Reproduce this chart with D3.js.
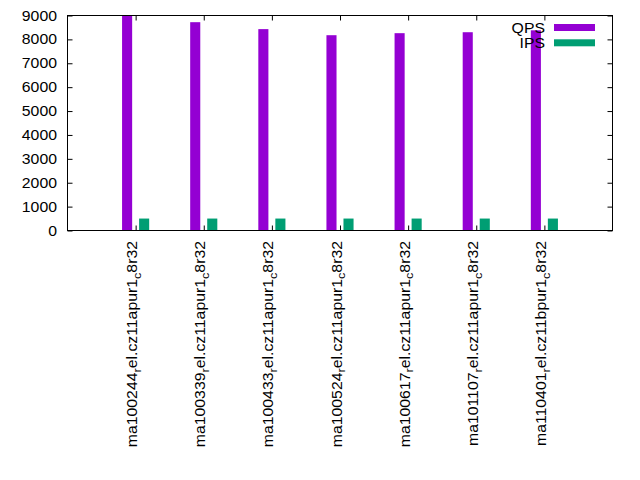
<!DOCTYPE html>
<html>
<head>
<meta charset="utf-8">
<script src="https://cdn.jsdelivr.net/npm/d3@7"></script>
<style>
  html, body { margin: 0; padding: 0; background: #fff; }
  svg { display: block; }
  text { font-family: "Liberation Sans", Arial, sans-serif; font-size: 14px; fill: #000; }
</style>
</head>
<body>
<script>
// ---- data ----
const categories = [
  "ma100244_rel.cz11apur1_c8r32",
  "ma100339_rel.cz11apur1_c8r32",
  "ma100433_rel.cz11apur1_c8r32",
  "ma100524_rel.cz11apur1_c8r32",
  "ma100617_rel.cz11apur1_c8r32",
  "ma101107_rel.cz11apur1_c8r32",
  "ma110401_rel.cz11bpur1_c8r32"
];
const seriesNames = ["QPS", "IPS"];
const qpsValues = [9000, 8720, 8430, 8175, 8260, 8300, 8380];
const ipsValues = [500, 500, 500, 500, 500, 500, 500];
const yTicks = [0, 1000, 2000, 3000, 4000, 5000, 6000, 7000, 8000, 9000];
const colors = ["#9400d3", "#009e73"];

// ---- layout ----
const W = 640, H = 480;
const m = { left: 67.5, right: 612.5, top: 15.5, bottom: 230.5 };
const SX = 1.13; // horizontal text stretch

const svg = d3.select("body").append("svg").attr("width", W).attr("height", H);

const x = d3.scaleLinear().domain([-1, categories.length]).range([m.left, m.right]);
const y = d3.scaleLinear().domain([0, 9000]).range([m.bottom, m.top]);

const barW = 0.148;
const offsets = [-0.125, 0.125];
const series = [qpsValues, ipsValues];

svg.append("clipPath").attr("id", "clip")
  .append("rect").attr("x", m.left).attr("y", m.top)
  .attr("width", m.right - m.left).attr("height", m.bottom - m.top);

const gBars = svg.append("g").attr("clip-path", "url(#clip)");
series.forEach((vals, si) => {
  gBars.selectAll(null).data(vals).enter().append("rect")
    .attr("x", (d, i) => x(i + offsets[si] - barW / 2))
    .attr("width", (d, i) => x(i + offsets[si] + barW / 2) - x(i + offsets[si] - barW / 2))
    .attr("y", d => y(d))
    .attr("height", d => y(0) - y(d))
    .attr("fill", colors[si]);
});

// axes (inward ticks, mirrored)
const tickLen = 5;
const gAx = svg.append("g");
const leftAxis = d3.axisLeft(y).tickValues(yTicks).tickSizeInner(-tickLen).tickSizeOuter(0).tickFormat("");
const la = gAx.append("g").attr("transform", `translate(${m.left},0)`).call(leftAxis);
la.select(".domain").remove();
la.selectAll("line").attr("stroke", "#000");
// y tick labels
gAx.selectAll(null).data(yTicks).enter().append("text")
  .attr("transform", d => `translate(57,${y(d) + 5}) scale(${SX},1)`)
  .attr("text-anchor", "end")
  .text(d3.format("d"));
const rightAxis = d3.axisRight(y).tickValues(yTicks).tickSizeInner(-tickLen).tickSizeOuter(0).tickFormat("");
const ra = gAx.append("g").attr("transform", `translate(${m.right},0)`).call(rightAxis);
ra.select(".domain").remove();
ra.selectAll("line").attr("stroke", "#000");
const idx = d3.range(categories.length);
const bottomAxis = d3.axisBottom(x).tickValues(idx).tickSizeInner(-tickLen).tickSizeOuter(0).tickFormat("");
const ba = gAx.append("g").attr("transform", `translate(0,${m.bottom})`).call(bottomAxis);
ba.select(".domain").remove();
ba.selectAll("line").attr("stroke", "#000");
const topAxis = d3.axisTop(x).tickValues(idx).tickSizeInner(-tickLen).tickSizeOuter(0).tickFormat("");
const ta = gAx.append("g").attr("transform", `translate(0,${m.top})`).call(topAxis);
ta.select(".domain").remove();
ta.selectAll("line").attr("stroke", "#000");

// frame
svg.append("rect").attr("x", m.left).attr("y", m.top)
  .attr("width", m.right - m.left).attr("height", m.bottom - m.top)
  .attr("fill", "none").attr("stroke", "#000").attr("stroke-width", 1);

// x labels (gnuplot enhanced text: _x -> subscript)
function parseEnhanced(s) {
  const parts = [];
  let buf = "";
  for (let i = 0; i < s.length; i++) {
    if (s[i] === "_" && i + 1 < s.length) {
      if (buf) parts.push({ t: buf, sub: false });
      buf = "";
      parts.push({ t: s[i + 1], sub: true });
      i++;
    } else buf += s[i];
  }
  if (buf) parts.push({ t: buf, sub: false });
  return parts;
}
categories.forEach((c, i) => {
  const tx = x(i) + 1.5;
  const ty = 241;
  const t = svg.append("text")
    .attr("transform", `translate(${tx},${ty}) rotate(-90) scale(${SX},1)`)
    .attr("text-anchor", "end");
  let shifted = false;
  parseEnhanced(c).forEach(p => {
    const sp = t.append("tspan").text(p.t);
    if (p.sub) {
      sp.attr("font-size", 11.2).attr("dy", shifted ? 0 : 3.8);
      shifted = true;
    } else {
      if (shifted) sp.attr("dy", -3.8);
      shifted = false;
    }
  });
});

// legend
seriesNames.forEach((n, i) => {
  const cy = 27.5 + i * 15.3;
  svg.append("text")
    .attr("transform", `translate(545,${cy + 5}) scale(${SX},1)`)
    .attr("text-anchor", "end").text(n);
  svg.append("rect").attr("x", 554).attr("y", cy - 3.5).attr("width", 41).attr("height", 7).attr("fill", colors[i]);
});
</script>
</body>
</html>
